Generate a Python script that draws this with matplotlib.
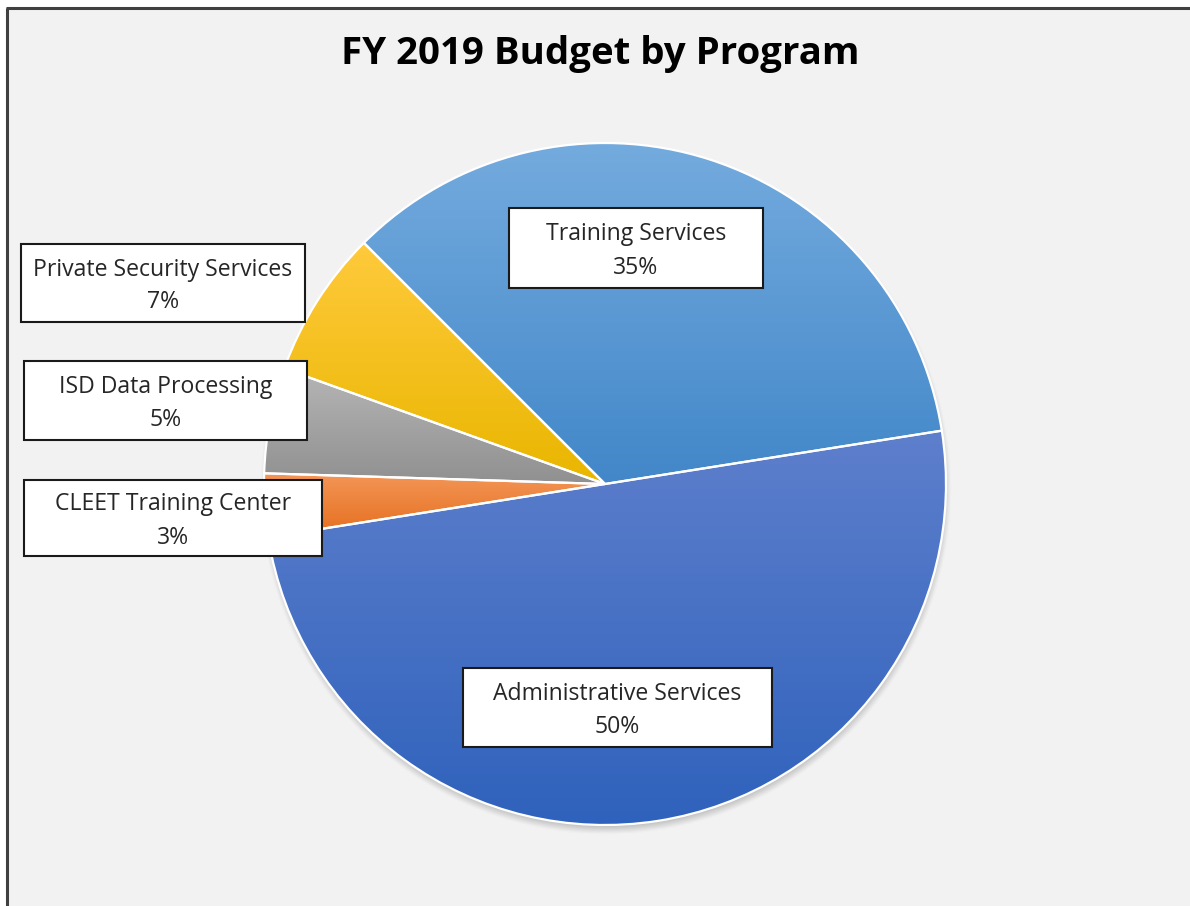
import numpy as np
import matplotlib
matplotlib.use("Agg")
import matplotlib.pyplot as plt
from matplotlib.colors import LinearSegmentedColormap, to_rgb
from matplotlib.patches import Rectangle

# Budget share by program (percent), in drawing order (clockwise from upper left)
programs = ["Training Services", "Administrative Services", "CLEET Training Center",
            "ISD Data Processing", "Private Security Services"]
shares = [35, 50, 3, 5, 7]

# gradient fills: (top colour, bottom colour)
fills = [("#74ABDE", "#4287C9"),
         ("#5E7FCC", "#2F62BC"),
         ("#F49658", "#E46E1D"),
         ("#B6B6B6", "#909090"),
         ("#FFCA3C", "#E9B600")]

W, H = 1190, 906
fig = plt.figure(figsize=(W / 100, H / 100), dpi=100)
fig.patch.set_facecolor("white")
ax = fig.add_axes([0, 0, 1, 1])
ax.set_xlim(0, W)
ax.set_ylim(0, H)
ax.set_aspect("equal")
ax.axis("off")

# chart area with its frame on the top and left
ax.add_patch(Rectangle((7, -5), W + 10, H - 8 + 5, facecolor="#F2F2F2",
                       edgecolor="none", zorder=0))
ax.plot([7, 7], [-5, H - 8], color="#404040", lw=2.2, zorder=1, solid_capstyle="butt")
ax.plot([6, W + 5], [H - 8, H - 8], color="#404040", lw=2.2, zorder=1, solid_capstyle="butt")

ax.text(600, H - 54, "FY 2019 Budget by Program", ha="center", va="center",
        fontsize=27.6, fontweight="bold", family="Open Sans", color="black", zorder=6)

cx, cy, r = 605, H - 484, 341

# soft shadow under the pie
gx = np.linspace(cx - r - 30, cx + r + 30, 400)
gy = np.linspace(cy - r - 30, cy + r + 30, 400)
XX, YY = np.meshgrid(gx, gy)
d = np.hypot(XX - cx - 1, YY - (cy - 5))
alpha = np.clip((r + 5 - d) / 12.0, 0, 1) * 0.45
shadow = np.zeros((400, 400, 4))
shadow[..., :3] = 0.35
shadow[..., 3] = alpha
ax.imshow(shadow, extent=[gx[0], gx[-1], gy[0], gy[-1]], origin="lower",
          zorder=1.5, aspect="auto", interpolation="bilinear")

wedges, _ = ax.pie(shares, startangle=135, counterclock=False, center=(cx, cy),
                   radius=r, frame=True,
                   wedgeprops=dict(facecolor="none", edgecolor="white", linewidth=1.6))
for w in wedges:
    w.set_zorder(3)

for w, (top, bottom) in zip(wedges, fills):
    ext = w.get_path().get_extents()
    cmap = LinearSegmentedColormap.from_list("g", [to_rgb(top), to_rgb(bottom)])
    grad = np.linspace(1, 0, 256)[:, None]
    im = ax.imshow(grad, cmap=cmap, vmin=0, vmax=1, origin="lower", aspect="auto",
                   extent=[ext.x0, ext.x1, ext.y0, ext.y1], zorder=2,
                   interpolation="bilinear")
    im.set_clip_path(w)

ax.set_xlim(0, W)
ax.set_ylim(0, H)
ax.set_aspect("equal")
ax.axis("off")

# data label boxes (x0, y0, x1, y1 in pixels from the top-left)
boxes = [(509, 208, 763, 288),
         (463, 668, 772, 747),
         (24, 480, 322, 556),
         (24, 361, 307, 440),
         (21, 244, 305, 322)]

for name, val, (x0, y0, x1, y1) in zip(programs, shares, boxes):
    ax.add_patch(Rectangle((x0, H - y1), x1 - x0, y1 - y0, facecolor="white",
                           edgecolor="#1a1a1a", lw=1.5, zorder=5))
    ax.text((x0 + x1) / 2, H - (y0 + y1) / 2 - 3, f"{name}\n{val}%", ha="center",
            va="center", multialignment="center", fontsize=16.6, family="Open Sans",
            color="#262626", linespacing=1.5, zorder=6)

fig.savefig("out.png", dpi=100, facecolor="white")
